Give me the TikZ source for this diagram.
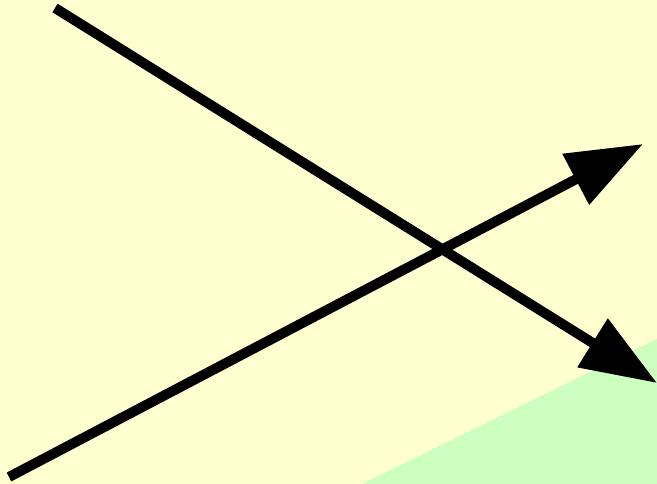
\documentclass[tikz,border=0pt]{standalone}
\usetikzlibrary{arrows.meta}
\definecolor{bgyellow}{RGB}{255,255,208}
\definecolor{fieldgreen}{RGB}{204,255,192}

\begin{document}
\begin{tikzpicture}[x=0.02cm, y=-0.02cm,
    ray/.style={line width=0.2cm, -{Triangle[length=1.52cm, width=1.1cm]}}]
  % Background and field
  \fill[bgyellow] (0,0) rectangle (657,484);
  \useasboundingbox (0,0) rectangle (657,484);
  \fill[fieldgreen] (362,484) -- (657,339) -- (657,484) -- cycle;
  % End points
  \coordinate (downstart) at (55,8);
  \coordinate (downend) at (657,383);
  \coordinate (upstart) at (9,477);
  \coordinate (upend) at (643,144);
  % Rays
  \draw[ray] (downstart) -- (downend);
  \draw[ray] (upstart) -- (upend);
\end{tikzpicture}
\end{document}
